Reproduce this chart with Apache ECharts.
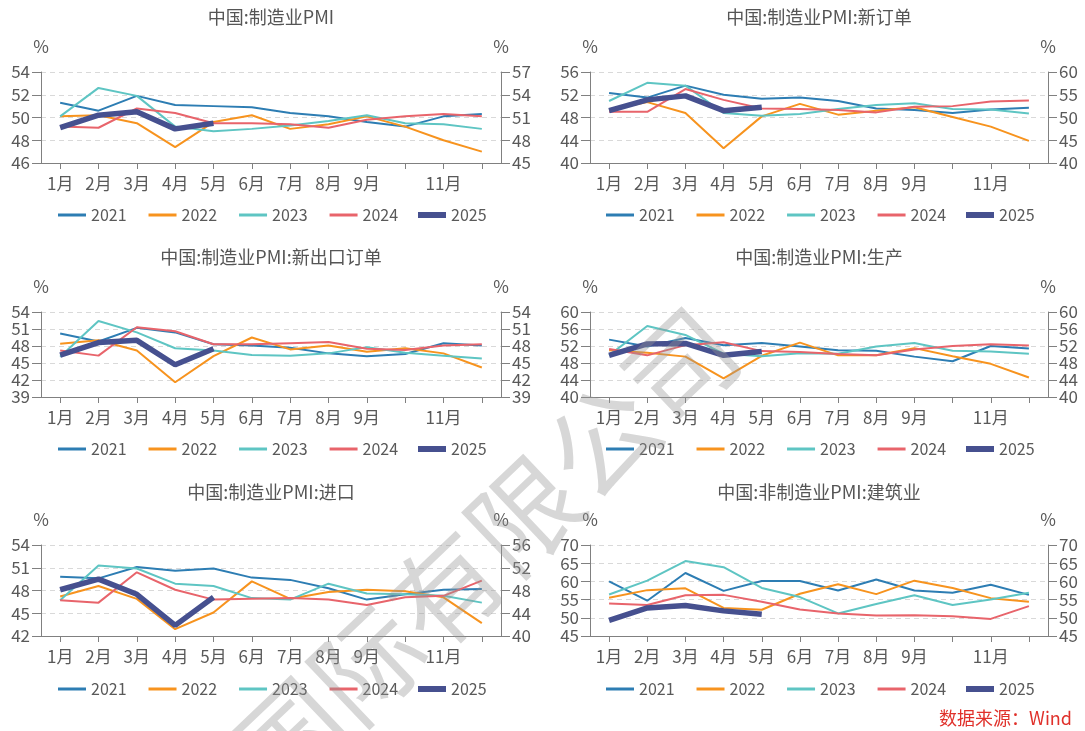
<!DOCTYPE html>
<html><head><meta charset="utf-8">
<script src="https://cdn.jsdelivr.net/npm/echarts@6/dist/echarts.min.js"></script>
<style>html,body{margin:0;padding:0;background:#fff}#c{width:1085px;height:731px}</style>
</head><body><div id="c"></div>
<script>
// ---- categories / legend ----
const xLabels = ['1月','2月','3月','4月','5月','6月','7月','8月','9月','','11月',''];
const years = ['2021','2022','2023','2024','2025'];

// ---- 中国:制造业PMI ----
const pmi2021 = [51.3,50.6,51.9,51.1,51.0,50.9,50.4,50.1,49.6,49.2,50.1,50.3];
const pmi2022 = [50.1,50.2,49.5,47.4,49.6,50.2,49.0,49.4,50.1,49.2,48.0,47.0];
const pmi2023 = [50.1,52.6,51.9,49.2,48.8,49.0,49.3,49.7,50.2,49.5,49.4,49.0];
const pmi2024 = [49.2,49.1,50.8,50.4,49.5,49.5,49.4,49.1,49.8,50.1,50.3,50.1];
const pmi2025 = [49.1,50.2,50.5,49.0,49.5];
const pmiLeftTicks = [46,48,50,52,54];
const pmiRightTicks = [45,48,51,54,57];

// ---- 中国:制造业PMI:新订单 ----
const ord2021 = [52.3,51.5,53.6,52.0,51.3,51.5,50.9,49.6,49.3,48.8,49.4,49.7];
const ord2022 = [49.3,50.7,48.8,42.6,48.2,50.4,48.5,49.2,49.8,48.1,46.4,43.9];
const ord2023 = [50.9,54.1,53.6,48.8,48.3,48.6,49.5,50.2,50.5,49.5,49.4,48.7];
const ord2024 = [49.0,49.0,53.0,51.1,49.6,49.5,49.3,48.9,49.9,50.0,50.8,51.0];
const ord2025 = [49.2,51.1,51.8,49.2,49.8];
const ordLeftTicks = [40,44,48,52,56];
const ordRightTicks = [40,45,50,55,60];

// ---- 中国:制造业PMI:新出口订单 ----
const exp2021 = [50.2,48.8,51.2,50.4,48.3,48.1,47.7,46.7,46.2,46.6,48.5,48.1];
const exp2022 = [48.4,49.0,47.2,41.6,46.2,49.5,47.4,48.1,47.0,47.6,46.7,44.2];
const exp2023 = [46.1,52.4,50.4,47.6,47.2,46.4,46.3,46.7,47.8,46.8,46.3,45.8];
const exp2024 = [47.2,46.3,51.3,50.6,48.3,48.3,48.5,48.7,47.5,47.3,48.1,48.3];
const exp2025 = [46.4,48.6,49.0,44.7,47.5];
const expLeftTicks = [39,42,45,48,51,54];
const expRightTicks = [39,42,45,48,51,54];

// ---- 中国:制造业PMI:生产 ----
const prd2021 = [53.5,51.9,53.9,52.2,52.7,51.9,51.0,50.9,49.5,48.4,52.0,51.4];
const prd2022 = [51.0,50.4,49.5,44.4,49.7,52.8,49.8,49.8,51.5,49.6,47.8,44.6];
const prd2023 = [49.8,56.7,54.6,50.2,49.6,50.3,50.2,51.9,52.7,50.9,50.7,50.2];
const prd2024 = [51.3,49.8,52.2,52.9,50.8,50.6,50.1,49.8,51.2,52.0,52.4,52.1];
const prd2025 = [49.8,52.5,52.6,49.8,50.7];
const prdLeftTicks = [40,44,48,52,56,60];
const prdRightTicks = [40,44,48,52,56,60];

// ---- 中国:制造业PMI:进口 ----
const imp2021 = [49.8,49.6,51.1,50.6,50.9,49.7,49.4,48.3,46.8,47.5,48.1,48.2];
const imp2022 = [47.2,48.6,46.9,42.9,45.1,49.2,46.9,47.8,48.1,47.9,47.1,43.7];
const imp2023 = [46.7,51.3,50.9,48.9,48.6,47.0,46.8,48.9,47.6,47.5,47.3,46.4];
const imp2024 = [46.7,46.4,50.4,48.1,46.8,46.9,47.0,46.8,46.1,47.1,47.3,49.3];
const imp2025 = [48.1,49.5,47.5,43.4,47.1];
const impLeftTicks = [42,45,48,51,54];
const impRightTicks = [40,44,48,52,56];

// ---- 中国:非制造业PMI:建筑业 ----
const con2021 = [60.0,54.7,62.3,57.4,60.1,60.1,57.5,60.5,57.5,56.9,59.1,56.3];
const con2022 = [55.5,57.6,58.1,52.7,52.2,56.6,59.2,56.5,60.2,58.2,55.4,54.4];
const con2023 = [56.4,60.2,65.6,63.9,58.2,55.7,51.2,53.8,56.2,53.5,55.0,56.9];
const con2024 = [53.9,53.5,56.2,56.3,54.4,52.3,51.2,50.6,50.7,50.4,49.7,53.2];
const con2025 = [49.3,52.7,53.4,51.9,51.0];
const conLeftTicks = [45,50,55,60,65,70];
const conRightTicks = [45,50,55,60,65,70];

const titles = ['中国:制造业PMI','中国:制造业PMI:新订单','中国:制造业PMI:新出口订单','中国:制造业PMI:生产','中国:制造业PMI:进口','中国:非制造业PMI:建筑业'];
const panelData = [
  [pmi2021,pmi2022,pmi2023,pmi2024,pmi2025],
  [ord2021,ord2022,ord2023,ord2024,ord2025],
  [exp2021,exp2022,exp2023,exp2024,exp2025],
  [prd2021,prd2022,prd2023,prd2024,prd2025],
  [imp2021,imp2022,imp2023,imp2024,imp2025],
  [con2021,con2022,con2023,con2024,con2025]
];
const panelTicks = [
  [pmiLeftTicks,pmiRightTicks],[ordLeftTicks,ordRightTicks],
  [expLeftTicks,expRightTicks],[prdLeftTicks,prdRightTicks],
  [impLeftTicks,impRightTicks],[conLeftTicks,conRightTicks]
];

// ---- layout & style ----
const W = 1085;
const cols = [{l:41, r:501, legendX:58}, {l:590, r:1048, legendX:606}];
const rows = [{titleY:17, top:72, bot:163, legendY:216},
              {titleY:257, top:312, bot:397, legendY:450},
              {titleY:492, top:545, bot:636, legendY:690}];
const colors = ['#2d7db3','#f7931e','#5ec5c3','#e8646b','#46508f'];
const widths = [2,2,2,2,5.5];
const FONT = '"Noto Sans CJK SC", "Noto Sans", sans-serif';
const TXT = '#595959';
const AX = '#808080';

const grid=[], xAxis=[], yAxis=[], series=[], legend=[], graphic=[];
for (let p=0;p<6;p++){
  const c = cols[p%2], r = rows[Math.floor(p/2)];
  grid.push({left:c.l, top:r.top, width:c.r-c.l, height:r.bot-r.top, containLabel:false});
  xAxis.push({type:'category', gridIndex:p, data:xLabels, boundaryGap:true,
    axisLine:{show:true, lineStyle:{color:AX, width:1}},
    axisTick:{show:true, alignWithLabel:true, length:6, interval:0, lineStyle:{color:AX}},
    axisLabel:{interval:0, fontSize:17, color:TXT, margin:12, fontFamily:FONT},
    splitLine:{show:false}});
  const [lt, rt] = panelTicks[p];
  const yCommon = {type:'value', gridIndex:p, name:'%', nameLocation:'end', nameGap:17,
    nameTextStyle:{fontSize:17, color:TXT, fontFamily:FONT},
    axisLine:{show:true, lineStyle:{color:AX, width:1}},
    axisTick:{show:true, length:9, lineStyle:{color:AX}},
    axisLabel:{fontSize:17, color:TXT, margin:11, fontFamily:FONT}};
  yAxis.push(Object.assign({}, yCommon, {position:'left', min:lt[0], max:lt[lt.length-1], interval:lt[1]-lt[0],
    splitLine:{show:true, lineStyle:{color:'#d9d9d9', type:[5,4], width:1}}}));
  yAxis.push(Object.assign({}, yCommon, {position:'right', min:rt[0], max:rt[rt.length-1], interval:rt[1]-rt[0],
    splitLine:{show:false}}));
  for (let k=0;k<5;k++){
    series.push({type:'line', name:years[k], xAxisIndex:p, yAxisIndex:2*p, data:panelData[p][k],
      symbol:'none', smooth:false, z:2+k,
      lineStyle:{color:colors[k], width:widths[k]}, itemStyle:{color:colors[k]}});
  }
  legend.push({data:years.slice(0,4), left:c.legendX, top:r.legendY-9, padding:0,
    icon:'rect', itemWidth:28, itemHeight:3, itemGap:22, selectedMode:false,
    textStyle:{fontSize:16, color:TXT, fontFamily:FONT}});
  legend.push({data:[years[4]], left:c.legendX+360, top:r.legendY-9, padding:0,
    icon:'rect', itemWidth:28, itemHeight:6, selectedMode:false,
    textStyle:{fontSize:16, color:TXT, fontFamily:FONT}});
  graphic.push({type:'text', x:(c.l+c.r)/2, y:r.titleY, z:10,
    style:{text:titles[p], font:'18px '+FONT, fill:'#555555', align:'center', verticalAlign:'middle',
           textAlign:'center', textVerticalAlign:'middle'}});
}
graphic.push({type:'text', x:W-13, y:718, z:10,
  style:{text:'数据来源：Wind', font:'18px '+FONT, fill:'#e0312b', align:'right', verticalAlign:'middle',
         textAlign:'right', textVerticalAlign:'middle'}});
// watermark
graphic.push({type:'text', x:485, y:552, rotation:0.76, z:100, silent:true,
  style:{text:'国际有限公司', font:'108px '+FONT, fill:'rgba(150,150,150,0.38)', align:'center', verticalAlign:'middle',
         textAlign:'center', textVerticalAlign:'middle'}});

const chart = echarts.init(document.getElementById('c'), null, {renderer:'canvas'});
chart.setOption({animation:false, backgroundColor:'#fff', textStyle:{fontFamily:FONT},
  grid, xAxis, yAxis, series, legend, graphic});
</script></body></html>
